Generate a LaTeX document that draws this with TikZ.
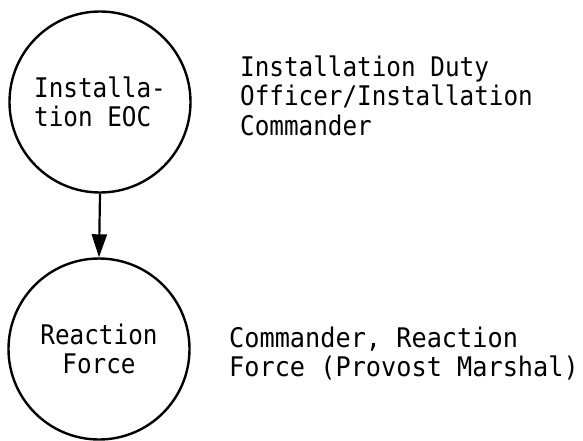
\documentclass[tikz,border=0pt]{standalone}
\usepackage{fontspec}
\setmonofont[FakeStretch=0.9]{DejaVu Sans Mono}
\newfontfamily\widemono[FakeStretch=0.935]{DejaVu Sans Mono}
\usetikzlibrary{arrows.meta}
\begin{document}
\begin{tikzpicture}[x=1pt,y=-1pt,
  txt/.style={font=\ttfamily\fontsize{27}{29.5}\selectfont},
  circ/.style={txt, draw, circle, line width=2.4pt, minimum size=181pt, inner sep=0pt, align=left},
  lbl/.style={txt, anchor=base west, align=left, inner sep=0pt},
  conn/.style={line width=2.2pt, -{Triangle[length=23pt,width=15pt]}}]
\useasboundingbox (0,0) rectangle (583,440);
\node[circ] (eoc) at (100,102) {Installa-\\tion EOC};
\node[circ, align=center] (rf) at (99,349) {Reaction\\Force};
\draw[conn] (eoc.south) -- (rf.north);
\node[lbl] (eocl) at (240,135) {Installation Duty\\Officer/Installation\\Commander};
\node[lbl, font=\widemono\fontsize{27}{29}\selectfont] (rfl) at (229,376) {Commander, Reaction\\Force (Provost Marshal)};
\end{tikzpicture}
\end{document}
